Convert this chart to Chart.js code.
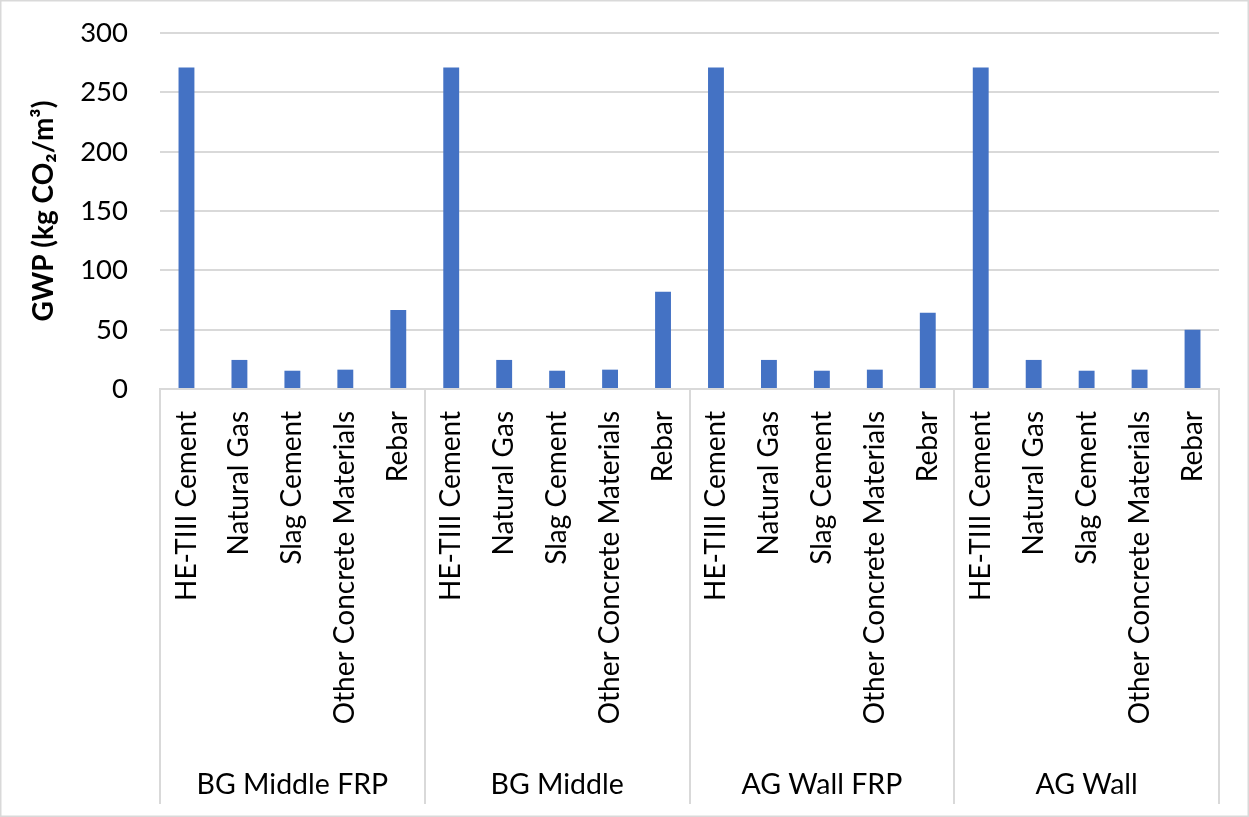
<!DOCTYPE html>
<html><head><meta charset="utf-8">
<script src="https://cdn.jsdelivr.net/npm/chart.js@4"></script>
<style>html,body{margin:0;padding:0;background:#fff}</style>
</head><body>
<canvas id="c" width="1249" height="817"></canvas>
<script>
const groups = ['BG Middle FRP', 'BG Middle', 'AG Wall FRP', 'AG Wall'];
const materials = ['HE-TIII Cement', 'Natural Gas', 'Slag Cement', 'Other Concrete Materials', 'Rebar'];
const bgMiddleFrp = [271, 24.5, 15.4, 16.3, 66.6];
const bgMiddle    = [271, 24.5, 15.4, 16.3, 82];
const agWallFrp   = [271, 24.5, 15.4, 16.3, 64.3];
const agWall      = [271, 24.5, 15.4, 16.3, 50];
const yTicks = [0, 50, 100, 150, 200, 250, 300];
const yTitle = 'GWP (kg CO\u2082/m\u00B3)';

const groupValues = [bgMiddleFrp, bgMiddle, agWallFrp, agWall];
const labels = [];
const values = [];
groups.forEach((g, i) => { materials.forEach((m, j) => { labels.push(m); values.push(groupValues[i][j]); }); });

const FONT = 'Lato, "Open Sans", sans-serif';
const GRID = '#d9d9d9';

const groupPlugin = {
  id: 'groupPlugin',
  beforeDraw(chart) {
    const ctx = chart.ctx;
    ctx.save();
    ctx.fillStyle = '#fff';
    ctx.fillRect(0, 0, chart.width, chart.height);
    ctx.strokeStyle = GRID;
    ctx.lineWidth = 1.5;
    ctx.strokeRect(0.75, 0.75, chart.width - 1.5, chart.height - 1.5);
    ctx.restore();
  },
  afterDraw(chart) {
    const ctx = chart.ctx;
    const xs = chart.scales.x;
    const area = chart.chartArea;
    const slot = xs.getPixelForValue(1) - xs.getPixelForValue(0);
    const n = materials.length;
    ctx.save();
    ctx.strokeStyle = GRID;
    ctx.lineWidth = 2;
    for (let g = 0; g <= groups.length; g++) {
      const x = Math.round(xs.getPixelForValue(g * n) - slot / 2);
      ctx.beginPath();
      ctx.moveTo(x, area.bottom);
      ctx.lineTo(x, 804);
      ctx.stroke();
    }
    ctx.fillStyle = '#000';
    ctx.font = '28.5px ' + FONT;
    ctx.textAlign = 'center';
    ctx.textBaseline = 'middle';
    groups.forEach((g, i) => {
      const x0 = xs.getPixelForValue(i * n) - slot / 2;
      const x1 = xs.getPixelForValue(i * n + n - 1) + slot / 2;
      ctx.fillText(g, (x0 + x1) / 2, 785);
    });
    ctx.restore();
  }
};

new Chart(document.getElementById('c'), {
  type: 'bar',
  data: {
    labels: labels,
    datasets: [{
      data: values,
      backgroundColor: '#4472C4',
      borderWidth: 0,
      categoryPercentage: 1,
      barPercentage: 0.30
    }]
  },
  options: {
    responsive: false,
    animation: false,
    devicePixelRatio: 1,
    layout: { padding: { left: 0, right: 30, top: 33, bottom: 0 } },
    plugins: { legend: { display: false }, tooltip: { enabled: false } },
    scales: {
      x: {
        grid: { display: false, drawTicks: false },
        border: { display: true, color: GRID, width: 2 },
        ticks: {
          autoSkip: false, maxRotation: 90, minRotation: 90,
          padding: 22, color: '#000', font: { family: FONT, size: 28 }
        },
        afterFit(scale) { scale.height = 428; scale.paddingLeft = 0; scale.paddingRight = 0; }
      },
      y: {
        min: 0, max: 300,
        afterBuildTicks(scale) { scale.ticks = yTicks.map(v => ({ value: v })); },
        grid: { color: GRID, lineWidth: 2, drawTicks: false },
        border: { display: false },
        ticks: { padding: 32, color: '#000', font: { family: FONT, size: 27.5 } },
        title: {
          display: true, text: yTitle, color: '#000',
          font: { family: FONT, size: 28, weight: 'bold' },
          padding: { top: 27, bottom: 0 }
        },
        afterFit(scale) { scale.width = 160; scale.paddingTop = 0; scale.paddingBottom = 0; }
      }
    }
  },
  plugins: [groupPlugin]
});
</script>
</body></html>
